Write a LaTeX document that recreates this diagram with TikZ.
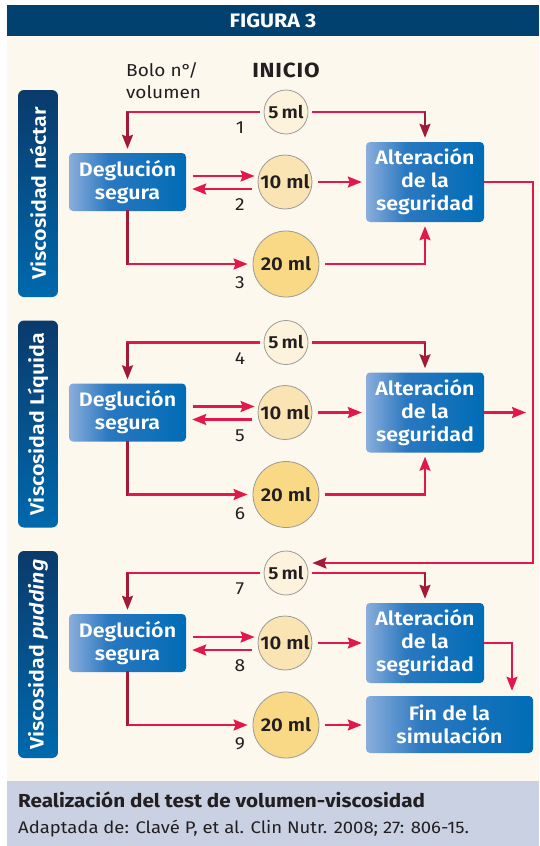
\documentclass[tikz,border=0pt]{standalone}
\usepackage{fontspec}
\setmainfont{Fira Sans}[FakeStretch=1.1]
\IfFontExistsTF{Fira Sans SemiBold}
  {\newfontfamily\semib{Fira Sans SemiBold}[FakeStretch=1.1]}
  {\newcommand\semib{\bfseries}}
\usetikzlibrary{arrows.meta,calc}

\definecolor{navy}{HTML}{00416F}
\definecolor{cream}{HTML}{FDF8EE}
\definecolor{foot}{HTML}{C9D1E2}
\definecolor{pk}{HTML}{E2184A}
\definecolor{dk}{HTML}{A11B36}
\definecolor{ink}{HTML}{231F20}
\definecolor{barTop}{HTML}{0A3A6B}
\definecolor{barBot}{HTML}{0069AD}
\definecolor{boxL}{HTML}{8AAEDC}
\definecolor{boxM}{HTML}{2A78C0}
\definecolor{boxR}{HTML}{006CB6}
\definecolor{cfive}{HTML}{FDF3DC}
\definecolor{cten}{HTML}{FBE4B4}
\definecolor{ctwenty}{HTML}{F9D985}
\definecolor{ring}{HTML}{9A9A9A}

\pgfdeclarehorizontalshading{boxshade}{100bp}{color(0bp)=(boxL); color(25bp)=(boxL); color(42bp)=(boxM); color(75bp)=(boxR); color(100bp)=(boxR)}

\tikzset{
  stepbox/.style={rounded corners=4pt, shading=boxshade, text=white,
    font=\semib\fontsize{19.5}{23}\selectfont, align=center, inner sep=0pt},
  vbar/.style={rounded corners=6pt, top color=barTop, bottom color=barBot,
    rotate=90, minimum width=207pt, minimum height=40pt, inner sep=0pt,
    text=white, font=\semib\fontsize{19.5}{22}\selectfont},
  bolus/.style={circle, draw=ring, line width=0.8pt, text=ink, inner sep=0pt,
    font=\semib\fontsize{18.5}{20}\selectfont},
  num/.style={text=ink, font=\fontsize{17.5}{20}\selectfont, inner sep=0pt},
  pkl/.style={draw=pk, line width=2.1pt},
  dkl/.style={draw=dk, line width=2.1pt},
  arr/.style={-{Stealth[length=14pt,width=11pt,inset=2pt]}},
}

\begin{document}
\begin{tikzpicture}[x=1pt,y=-1pt]
\useasboundingbox (0,0) rectangle (539,846);
% frame: header, body, footer
\fill[navy] (7,5) rectangle (539,36);
\fill[cream] (7,36) rectangle (539,781);
\fill[foot] (7,781) rectangle (539,846);
\node[text=white, font=\bfseries\fontsize{19.5}{20}\selectfont] (title) at (273,20.5) {FIGURA 3};

\node[text=ink, font=\fontsize{17.3}{22}\selectfont, align=left, anchor=north west, inner sep=0pt] (bolo) at (126,62) {Bolo n°/\\volumen};
\node[text=ink, font=\bfseries\fontsize{20.5}{20}\selectfont] (inicio) at (286,70) {I\kern0.8pt N\kern0.8pt I\kern0.8pt C\kern0.8pt I\kern0.8pt O};

% three viscosity rows
\foreach \s/\dy/\vis/\na/\nb/\nc in {1/0/{Viscosidad néctar}/1/2/3,
    2/230.5/{Viscosidad Líquida}/4/5/6,
    3/461/{Viscosidad \textit{pudding}}/7/8/9}{
  \node[vbar] (bar\s) at (38,{193.5+\dy}) {\vis};
  \node[bolus, fill=cfive, minimum size=44pt, font=\semib\fontsize{17.5}{18}\selectfont] (a\s) at (286,{112+\dy}) {5\,ml};
  \node[bolus, fill=cten, minimum size=54pt] (b\s) at (285,{182+\dy}) {10 ml};
  \node[bolus, fill=ctwenty, minimum size=66pt] (c\s) at (286,{264+\dy}) {20 ml};
  \node[stepbox, minimum width=117pt, minimum height=58pt] (d\s) at (127.5,{182+\dy}) {Deglución\\segura};
  \node[stepbox, minimum width=118pt, minimum height=80pt] (e\s) at (425,{182+\dy}) {Alteración\\de la\\seguridad};
  \node[num] (n\na) at (240,{128+\dy}) {\na};
  \node[num] (n\nb) at (240,{205+\dy}) {\nb};
  \node[num] (n\nc) at (240,{283+\dy}) {\nc};
  % 5 ml -> safe swallow
  \draw[pkl, line cap=rect, shorten <=5pt] (a\s.west) -- (a\s.west -| d\s.north);
  \draw[dkl, arr, shorten >=4pt] (a\s.west -| d\s.north) -- (d\s.north);
  % 5 ml -> impaired safety
  \draw[pkl, line cap=rect, shorten <=5pt] (a\s.east) -- (a\s.east -| e\s.north);
  \draw[dkl, arr, shorten >=4pt] (a\s.east -| e\s.north) -- (e\s.north);
  % 10 ml there and back
  \draw[pkl, arr, shorten <=7pt, shorten >=3pt] ([yshift=6pt]d\s.east) -- ([yshift=6pt]b\s.west);
  \draw[pkl, arr, shorten <=6pt, shorten >=6pt] ([yshift=-7pt]b\s.west) -- ([yshift=-7pt]d\s.east);
  \draw[pkl, arr, shorten <=6pt, shorten >=4pt] (b\s.east) -- (e\s.west);
  % safe swallow -> 20 ml
  \draw[dkl, line cap=rect] (d\s.south) -- (d\s.south |- c\s.west);
  \draw[pkl, arr, shorten >=5pt] (d\s.south |- c\s.west) -- (c\s.west);
  \ifnum\s<3
    \draw[pkl, arr, shorten <=6pt, shorten >=4pt] (c\s.east) -| (e\s.south);
  \fi
}

% end of the test
\node[stepbox, minimum width=167pt, minimum height=57pt] (fin) at (449.5,724.5) {Fin de la\\simulación};
\draw[pkl, arr, shorten <=6pt, shorten >=4pt] (c3.east) -- (c3.east -| fin.west);
\draw[pkl, arr, shorten >=5pt] (e3.east) -| ([xshift=62.5pt]fin.north);

% exits of the first two rows
\coordinate (rail) at (533,0);
\draw[pkl, -{Stealth[length=14pt,width=11pt,inset=2pt,color=dk]}, shorten >=2pt]
  (e1.east) -- (e1.east -| rail) |- ([xshift=2pt,yshift=10pt]a3.east);
\coordinate (out2) at (526,412.5);
\draw[pkl, arr] (e2.east) -- (out2);

% caption
\node[text=ink, font=\bfseries\fontsize{18.8}{20}\selectfont, anchor=base west, inner sep=0pt] (cap) at (18,807) {Realización del test de volumen-viscosidad};
\node[text=ink, font=\fontsize{16.8}{18}\selectfont, anchor=base west, inner sep=0pt] (src) at (18,833) {Adaptada de: Clavé P, et al. Clin Nutr. 2008; 27: 806-15.};
\end{tikzpicture}
\end{document}
